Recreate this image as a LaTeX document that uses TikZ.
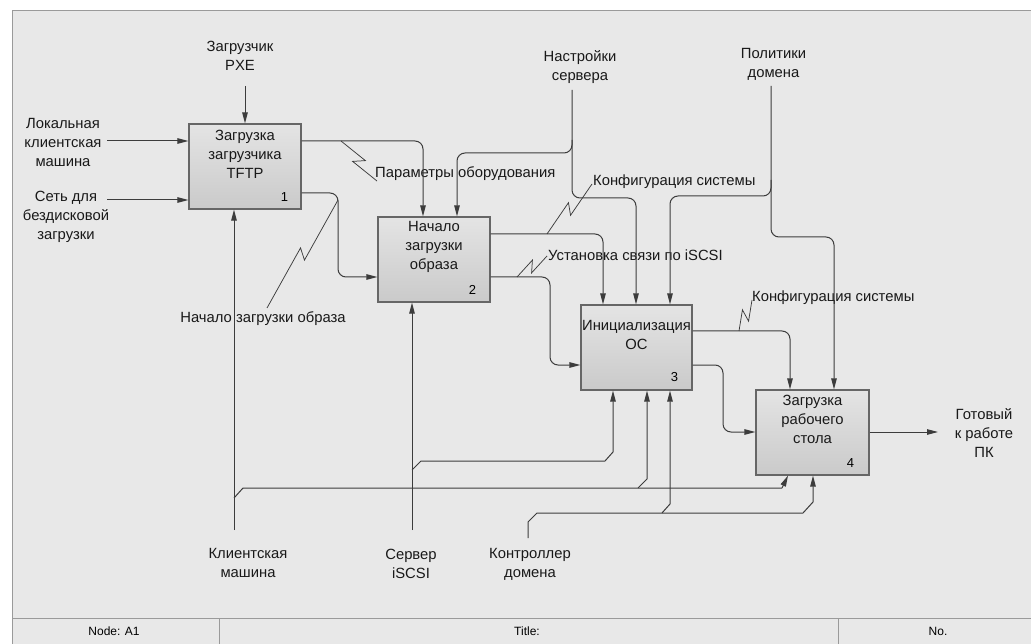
\documentclass[tikz,border=0pt]{standalone}
\usepackage{fontspec}
\setmainfont{Liberation Sans}
\usetikzlibrary{arrows.meta,calc}
\definecolor{bg}{HTML}{E8E8E8}
\definecolor{linec}{HTML}{3C3C3C}
\definecolor{boxb}{HTML}{666666}
\definecolor{boxt}{HTML}{E4E4E4}
\definecolor{boxbot}{HTML}{CACACA}
\definecolor{framec}{HTML}{9A9A9A}
\newcommand\bolt[2]{\draw[conn, line width=0.75pt] (#1) -- ($(#1)!0.5!(#2)!4pt!(#2)!5pt!90:(#2)$) -- ($(#1)!0.5!(#2)!4pt!(#1)!5pt!90:(#1)$) -- (#2);}
\begin{document}
\begin{tikzpicture}[x=1pt,y=-1pt,
  conn/.style={draw=linec, line width=1pt},
  arr/.style={conn,-{Triangle[length=11pt,width=5.5pt]}},
  rc/.style={rounded corners=8pt},
  box/.style={draw=boxb, line width=1.2pt, top color=boxt, bottom color=boxbot, minimum width=112pt, minimum height=85pt, inner sep=0pt},
  lbl/.style={font=\fontsize{14.8}{19}\selectfont, align=center, inner sep=0pt, text=black!90},
  num/.style={font=\fontsize{13}{15}\selectfont, inner sep=0pt},
  foot/.style={font=\fontsize{12}{14}\selectfont, inner sep=0pt}
]
\useasboundingbox (0,0) rectangle (1031,644);
\fill[white] (0,0) rectangle (1031,644);
\fill[bg] (12,11) rectangle (1031,644);
\draw[framec, line width=1pt] (12,644) -- (12,11) -- (1031,11);
\draw[framec, line width=1pt] (12,618) -- (1031,618);
\draw[framec, line width=0.8pt] (219,618) -- (219,644);
\draw[framec, line width=0.8pt] (838,618) -- (838,644);
\node[foot] (fnode) at (114,631) {Node: A1};
\node[foot] (ftitle) at (527,631) {Title:};
\node[foot] (fno) at (938,631) {No.};

% boxes
\node[box] (b1) at (245,166.5) {};
\node[box] (b2) at (434,259.5) {};
\node[box, minimum width=111pt] (b3) at (636.5,347.5) {};
\node[box, minimum width=113pt] (b4) at (812.5,432.5) {};
\node[lbl] (b1t) at ($(b1.north)+(0,31)$) {Загрузка\\загрузчика\\TFTP};
\node[lbl] (b2t) at ($(b2.north)+(0,31)$) {Начало\\загрузки\\образа};
\node[lbl] (b3t) at ($(b3.north)+(0,30.5)$) {Инициализация\\ОС};
\node[lbl] (b4t) at ($(b4.north)+(0,30)$) {Загрузка\\рабочего\\стола};
\node[num] (b1n) at ($(b1.south east)+(-17,-13)$) {1};
\node[num] (b2n) at ($(b2.south east)+(-18,-13)$) {2};
\node[num] (b3n) at ($(b3.south east)+(-18,-14)$) {3};
\node[num] (b4n) at ($(b4.south east)+(-19,-13)$) {4};

% outer labels
\node[lbl] (pxe) at (240,56) {Загрузчик\\PXE};
\node[lbl] (lin1) at (63,142) {Локальная\\клиентская\\машина};
\node[lbl] (lin2) at (66,217) {Сеть для\\бездисковой\\загрузки};
\node[lbl] (mcl) at (248,562.5) {Клиентская\\машина};
\node[lbl] (msrv) at (411,564) {Сервер\\iSCSI};
\node[lbl] (mdc) at (530,564.5) {Контроллер\\домена};
\node[lbl] (csrv) at (580,67.5) {Настройки\\сервера};
\node[lbl] (cpol) at (773.5,64.5) {Политики\\домена};
\node[lbl] (outl) at (984,433) {Готовый\\к работе\\ПК};
\node[lbl, anchor=west] (l1) at (375,174) {Параметры оборудования};
\node[lbl] (l2) at (263,319) {Начало загрузки образа};
\node[lbl, anchor=west] (l3) at (593,182) {Конфигурация системы};
\node[lbl, anchor=west] (l4) at (548,255) {Установка связи по iSCSI};
\node[lbl, anchor=west] (l5) at (752,298) {Конфигурация системы};

% free ends
\coordinate (i1) at (107,141);
\coordinate (i2) at (107,200);
\coordinate (c1) at (245,86);
\coordinate (c2) at (572,90);
\coordinate (c3) at (771,86);
\coordinate (m1) at (234,530);
\coordinate (m2) at (412,530);
\coordinate (m3) at (528,538);
\coordinate (o1) at (938,432);

% inputs / controls of box 1
\draw[arr] (i1) -- (i1 -| b1.west);
\draw[arr] (i2) -- (i2 -| b1.west);
\draw[arr] (c1) -- (b1.north);

% box 1 outputs
\draw[arr,rc] (b1.east |- 0,141) -- (423,141) -- (423,0 |- b2.north);
\draw[arr,rc] (b1.east |- 0,193) -- (338,193) -- (338,277) -- (b2.west |- 0,277);

% mechanisms
\draw[arr] (m1) -- (m1 |- b1.south);
\draw[conn] (234,498) -- (243,488) -- (782,488);
\draw[arr] (782,488) -- (788,0 |- b4.south);
\draw[arr] (638,488) -- (647,479) -- (647,0 |- b3.south);
\draw[arr] (m2) -- (m2 |- b2.south);
\draw[arr] (412,470) -- (421,461) -- (605,461) -- (613,452) -- (613,0 |- b3.south);
\draw[arr] (m3) -- (528,522) -- (537,513) -- (803,513) -- (813,502) -- (813,0 |- b4.south);
\draw[arr] (662,513) -- (670,504) -- (670,0 |- b3.south);

% box 2 outputs
\draw[arr,rc] (b2.east |- 0,234) -- (603,234) -- (603,0 |- b3.north);
\draw[arr,rc] (b2.east |- 0,277) -- (550,277) -- (550,365) -- (b3.west |- 0,365);

% controls
\draw[arr,rc] (c2) -- (572,153) -- (457,153) -- (457,0 |- b2.north);
\draw[arr,rc] (572,140) -- (572,198) -- (636,198) -- (636,0 |- b3.north);
\draw[arr,rc] (c3) -- (771,196) -- (670,196) -- (670,0 |- b3.north);
\draw[arr,rc] (771,180) -- (771,237) -- (834,237) -- (834,0 |- b4.north);

% box 3 outputs
\draw[arr,rc] (b3.east |- 0,331) -- (790,331) -- (790,0 |- b4.north);
\draw[arr,rc] (b3.east |- 0,365) -- (723,365) -- (723,432) -- (b4.west |- 0,432);
\draw[arr] (b4.east |- o1) -- (o1);

% squiggles
\coordinate (s1a) at (341,141); \coordinate (s1b) at (377,181);
\coordinate (s2a) at (338,200); \coordinate (s2b) at (267,308);
\coordinate (s3a) at (547,234); \coordinate (s3b) at (592,184);
\coordinate (s4a) at (517,277); \coordinate (s4b) at (547,256);
\coordinate (s5a) at (739,331); \coordinate (s5b) at (752,300);
\bolt{s1a}{s1b}
\bolt{s2a}{s2b}
\bolt{s3a}{s3b}
\bolt{s4a}{s4b}
\bolt{s5a}{s5b}
\end{tikzpicture}
\end{document}
